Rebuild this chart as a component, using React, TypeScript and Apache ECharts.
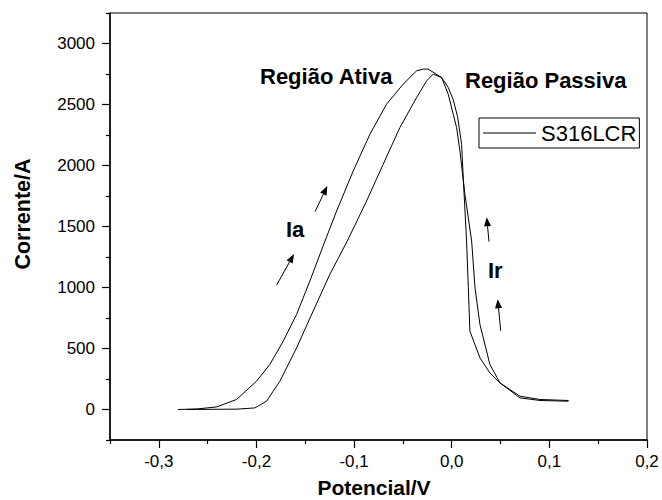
import React, { useEffect, useRef } from 'react';
import * as echarts from 'echarts';

const potencial = [
  -0.2804, -0.26, -0.2409, -0.2204, -0.1999, -0.1863, -0.1726, -0.1589, -0.1453, -0.1298,
  -0.1179, -0.1009, -0.0838, -0.0667, -0.0497, -0.036, -0.0292, -0.0241, -0.0103,
  -0.0036, 0.0015, 0.006, 0.0101, 0.0118, 0.0152, 0.017, 0.0186, 0.0289, 0.0391, 0.0494,
  0.0699, 0.0904, 0.1194,
  0.1194, 0.0904, 0.0699, 0.0494, 0.0391, 0.0289, 0.0238, 0.0204, 0.0135, 0.0084, 0.005,
  0.0015, -0.0036, -0.0103, -0.019, -0.0257, -0.036, -0.0531, -0.0702, -0.0872, -0.107,
  -0.1248, -0.1419, -0.1589, -0.176, -0.1897, -0.2016, -0.22, -0.2716,
];
const corrente = [
  0, 5, 21, 82, 232, 369, 560, 779, 1053, 1381,
  1627, 1955, 2256, 2503, 2667, 2776, 2790, 2790, 2721,
  2640, 2540, 2400, 2174, 1900, 1381, 1000, 643, 423, 300, 218,
  109, 82, 74,
  68, 74, 95, 218, 369, 697, 1000, 1381, 1764, 2119, 2311,
  2421, 2585, 2721, 2749, 2694, 2557, 2311, 2010, 1709, 1381,
  1108, 807, 505, 232, 68, 13, 3, 0,
];

const xMajor = [-0.3, -0.2, -0.1, 0, 0.1, 0.2];
const xMinor = [-0.35, -0.25, -0.15, -0.05, 0.05, 0.15];
const yMajor = [0, 500, 1000, 1500, 2000, 2500, 3000];
const yMinor = [-250, 250, 750, 1250, 1750, 2250, 2750, 3250];

const seriesName = 'S316LCR';
const FONT = '"Liberation Sans", Arial, Helvetica, sans-serif';

function arrow(x1: number, y1: number, x2: number, y2: number) {
  const dx = x2 - x1;
  const dy = y2 - y1;
  const len = Math.sqrt(dx * dx + dy * dy);
  const ux = dx / len;
  const uy = dy / len;
  const L = 9;
  const W = 3.5;
  const bx = x2 - ux * L;
  const by = y2 - uy * L;
  return [
    {
      type: 'line',
      shape: { x1, y1, x2: bx, y2: by },
      style: { stroke: '#000', lineWidth: 1 },
    },
    {
      type: 'polygon',
      shape: {
        points: [
          [x2, y2],
          [bx - uy * W, by + ux * W],
          [bx + uy * W, by - ux * W],
        ],
      },
      style: { fill: '#000' },
    },
  ];
}

function label(text: string, x: number, y: number) {
  return {
    type: 'text',
    x,
    y,
    style: {
      text,
      fill: '#000',
      fontSize: 22,
      fontWeight: 'bold',
      fontFamily: FONT,
      align: 'left',
      verticalAlign: 'middle',
    },
  };
}

export default function App() {
  const ref = useRef<HTMLDivElement>(null);

  useEffect(() => {
    if (!ref.current) return;
    const chart = echarts.init(ref.current, undefined, { renderer: 'svg' });
    const data = potencial.map((x, i) => [x, corrente[i]]);
    const axisLine = { show: true, onZero: false, lineStyle: { color: '#000', width: 1.5 } };
    const tickStyle = { color: '#000', width: 1.2 };
    chart.setOption({
      animation: false,
      backgroundColor: '#fff',
      grid: {
        left: 110,
        right: 15,
        top: 13,
        bottom: 60,
        show: true,
        borderColor: '#000',
        borderWidth: 1,
        backgroundColor: 'transparent',
      },
      legend: {
        data: [{ name: seriesName, icon: 'rect' }],
        left: 479,
        top: 118,
        padding: [4, 3, 4, 4],
        itemWidth: 53,
        itemHeight: 1,
        borderColor: '#000',
        borderWidth: 1,
        backgroundColor: '#fff',
        textStyle: { fontSize: 22, color: '#000', fontFamily: FONT },
      },
      xAxis: [
        {
          type: 'value',
          min: -0.35,
          max: 0.2,
          position: 'bottom',
          axisLine,
          axisTick: { show: true, customValues: xMajor, length: 8, lineStyle: tickStyle },
          axisLabel: {
            customValues: xMajor,
            formatter: (v: number) => v.toFixed(1).replace('.', ','),
            fontSize: 17,
            color: '#000',
            fontFamily: FONT,
            margin: 13,
          },
          splitLine: { show: false },
        },
        {
          type: 'value',
          min: -0.35,
          max: 0.2,
          position: 'bottom',
          axisLine: { show: false, onZero: false },
          axisTick: { show: true, customValues: xMinor, length: 4, lineStyle: tickStyle },
          axisLabel: { show: false },
          splitLine: { show: false },
        },
      ],
      yAxis: [
        {
          type: 'value',
          min: -250,
          max: 3250,
          position: 'left',
          axisLine,
          axisTick: { show: true, customValues: yMajor, length: 8, lineStyle: tickStyle },
          axisLabel: {
            customValues: yMajor,
            formatter: (v: number) => String(v),
            fontSize: 17,
            color: '#000',
            fontFamily: FONT,
            margin: 15,
          },
          splitLine: { show: false },
        },
        {
          type: 'value',
          min: -250,
          max: 3250,
          position: 'left',
          axisLine: { show: false, onZero: false },
          axisTick: { show: true, customValues: yMinor, length: 4, lineStyle: tickStyle },
          axisLabel: { show: false },
          splitLine: { show: false },
        },
      ],
      series: [
        {
          name: seriesName,
          type: 'line',
          xAxisIndex: 0,
          yAxisIndex: 0,
          data,
          symbol: 'none',
          showSymbol: false,
          smooth: false,
          lineStyle: { color: '#000', width: 1 },
          itemStyle: { color: '#000' },
        },
      ],
      graphic: [
        label('Região Ativa', 260, 76),
        label('Região Passiva', 465, 80),
        label('Ia', 286, 229),
        label('Ir', 488, 270.5),
        ...arrow(276.7, 285, 294, 254),
        ...arrow(315, 211.7, 327.3, 186),
        ...arrow(489, 241.7, 486.7, 217.3),
        ...arrow(500.7, 330.7, 497.7, 299.3),
        {
          type: 'text',
          x: 374,
          y: 487,
          style: {
            text: 'Potencial/V',
            fill: '#000',
            fontSize: 21,
            fontWeight: 'bold',
            fontFamily: FONT,
            align: 'center',
            verticalAlign: 'middle',
          },
        },
        {
          type: 'text',
          x: 23,
          y: 214,
          rotation: Math.PI / 2,
          style: {
            text: 'Corrente/A',
            fill: '#000',
            fontSize: 21.5,
            fontWeight: 'bold',
            fontFamily: FONT,
            align: 'center',
            verticalAlign: 'middle',
          },
        },
      ],
    });
    return () => chart.dispose();
  }, []);

  return (
    <div
      ref={ref}
      style={{ position: 'fixed', left: 0, top: 0, width: 662, height: 500, background: '#fff' }}
    />
  );
}
